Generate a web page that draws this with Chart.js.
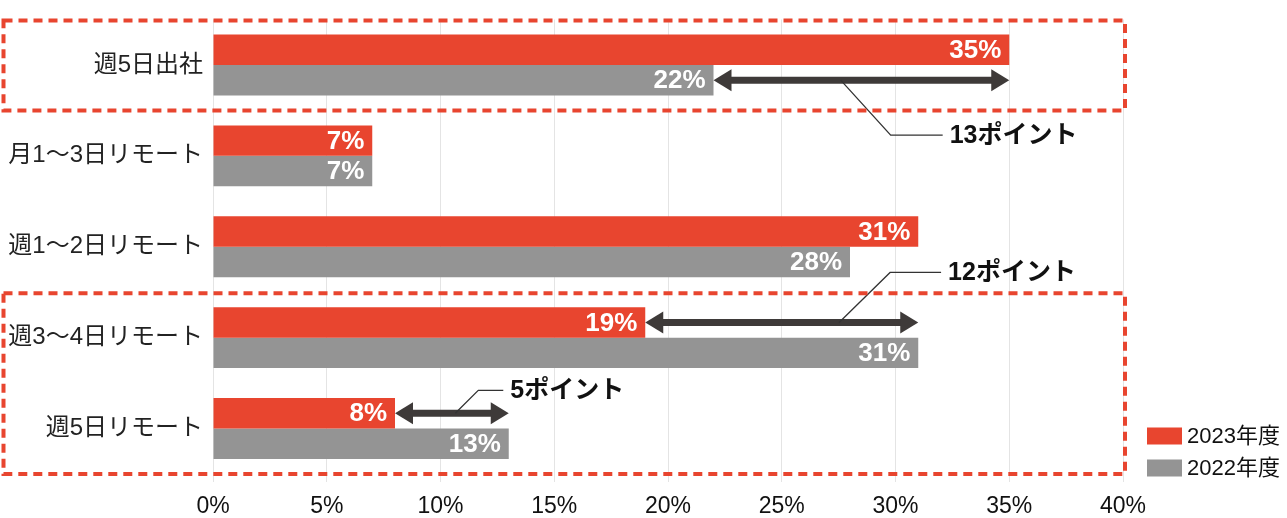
<!DOCTYPE html>
<html lang="ja">
<head>
<meta charset="UTF-8" />
<title>出社・リモート頻度の変化</title>
<script src="https://cdn.jsdelivr.net/npm/chart.js"></script>
<style>
  body { margin: 0; background: #fff; }
  .chart-box { width: 1287px; height: 518px; }
</style>
</head>
<body>
<div class="chart-box"><canvas id="workChart"></canvas></div>
<script>
  const categories = ['週5日出社', '月1〜3日リモート', '週1〜2日リモート', '週3〜4日リモート', '週5日リモート'];
  const values2023 = [35, 7, 31, 19, 8];
  const values2022 = [22, 7, 28, 31, 13];
  const seriesNames = ['2023年度', '2022年度'];
  const xMin = 0, xMax = 40, xStep = 5;
  const boxedGroups = [[0], [3, 4]];
  const gapCategories = [0, 3, 4];

  const RED = '#e8452f';
  const GRAY = '#949494';
  const ARROW = '#3e3a39';
  const FONT = "'Liberation Sans', 'Noto Sans CJK JP', sans-serif";

  // where each leader leaves its arrow (fraction of the arrow), elbow offset and run
  const leaderStyle = {
    0: { at: 0.43, dx: 50, dy: 55, run: 52 },
    3: { at: 0.71, dx: 51, dy: -50, run: 51 },
    4: { at: 0.53, dx: 23, dy: -23, run: 25 }
  };

  const overlay = {
    id: 'overlay',
    afterDatasetsDraw(chart) {
      const ctx = chart.ctx;
      const x = chart.scales.x, y = chart.scales.y;
      const area = chart.chartArea;

      // value labels inside bar ends
      ctx.save();
      ctx.font = 'bold 26px ' + FONT;
      ctx.fillStyle = '#fff';
      ctx.textAlign = 'right';
      ctx.textBaseline = 'middle';
      chart.data.datasets.forEach((ds, di) => {
        chart.getDatasetMeta(di).data.forEach((bar, i) => {
          ctx.fillText(ds.data[i] + '%', bar.x - 8, bar.y + 1);
        });
      });
      ctx.restore();

      // double arrows between the two years, with callouts
      gapCategories.forEach(i => {
        const a = values2023[i], b = values2022[i];
        const row = a < b ? 0 : 1;
        const bar = chart.getDatasetMeta(row).data[i];
        const x1 = x.getPixelForValue(Math.min(a, b));
        const x2 = x.getPixelForValue(Math.max(a, b));
        const yy = bar.y;
        const head = 18, half = 11;

        ctx.save();
        ctx.strokeStyle = ARROW;
        ctx.fillStyle = ARROW;
        ctx.lineWidth = 7;
        ctx.beginPath();
        ctx.moveTo(x1 + head - 2, yy);
        ctx.lineTo(x2 - head + 2, yy);
        ctx.stroke();
        ctx.beginPath();
        ctx.moveTo(x1, yy);
        ctx.lineTo(x1 + head, yy - half);
        ctx.lineTo(x1 + head, yy + half);
        ctx.closePath();
        ctx.fill();
        ctx.beginPath();
        ctx.moveTo(x2, yy);
        ctx.lineTo(x2 - head, yy - half);
        ctx.lineTo(x2 - head, yy + half);
        ctx.closePath();
        ctx.fill();

        const s = leaderStyle[i];
        const sx = x1 + (x2 - x1) * s.at;
        const ex = sx + s.dx, ey = yy + s.dy;
        ctx.strokeStyle = '#333';
        ctx.lineWidth = 1.3;
        ctx.beginPath();
        ctx.moveTo(sx, yy);
        ctx.lineTo(ex, ey);
        ctx.lineTo(ex + s.run, ey);
        ctx.stroke();

        ctx.fillStyle = '#111';
        ctx.font = 'bold 25px ' + FONT;
        ctx.textAlign = 'left';
        ctx.textBaseline = 'middle';
        ctx.fillText(Math.abs(a - b) + 'ポイント', ex + s.run + 7, ey + 1);
        ctx.restore();
      });

      // dashed frames around the highlighted categories
      const band = (area.bottom - area.top) / categories.length;
      ctx.save();
      ctx.strokeStyle = RED;
      ctx.lineWidth = 4;
      ctx.setLineDash([9, 6]);
      boxedGroups.forEach(g => {
        const top = y.getPixelForValue(g[0]) - band / 2 + 1;
        const bottom = y.getPixelForValue(g[g.length - 1]) + band / 2;
        ctx.strokeRect(3.5, top, area.right + 2 - 3.5, bottom - top);
      });
      ctx.restore();

      // legend, stacked at the lower right beside the plot
      ctx.save();
      ctx.font = '22px ' + FONT;
      ctx.fillStyle = '#111';
      ctx.textAlign = 'left';
      ctx.textBaseline = 'middle';
      chart.data.datasets.forEach((ds, k) => {
        const cy = area.bottom - 6 - (chart.data.datasets.length - 1 - k) * 32;
        const bx = area.right + 24;
        ctx.fillStyle = ds.backgroundColor;
        ctx.fillRect(bx, cy - 8.5, 35, 17);
        ctx.fillStyle = '#111';
        ctx.fillText(ds.label, bx + 40, cy + 1);
      });
      ctx.restore();
    }
  };

  new Chart(document.getElementById('workChart'), {
    type: 'bar',
    data: {
      labels: categories,
      datasets: [
        { label: seriesNames[0], data: values2023, backgroundColor: RED },
        { label: seriesNames[1], data: values2022, backgroundColor: GRAY }
      ]
    },
    options: {
      indexAxis: 'y',
      responsive: true,
      maintainAspectRatio: false,
      animation: false,
      categoryPercentage: 0.67,
      barPercentage: 1,
      layout: { padding: { top: 19.5, bottom: 0, right: 164 } },
      scales: {
        x: {
          min: xMin,
          max: xMax,
          ticks: {
            stepSize: xStep,
            callback: v => v + '%',
            color: '#111',
            font: { family: FONT, size: 23 },
            padding: 11
          },
          grid: { color: '#e4e4e4', tickLength: 8 },
          border: { display: false },
          afterFit(scale) { scale.height = 44; }
        },
        y: {
          ticks: {
            color: '#222',
            font: { family: FONT, size: 24 },
            padding: 2
          },
          grid: { display: false },
          border: { display: false },
          afterFit(scale) { scale.width = 213; }
        }
      },
      plugins: {
        legend: { display: false },
        tooltip: { enabled: false }
      }
    },
    plugins: [overlay]
  });
</script>
</body>
</html>
